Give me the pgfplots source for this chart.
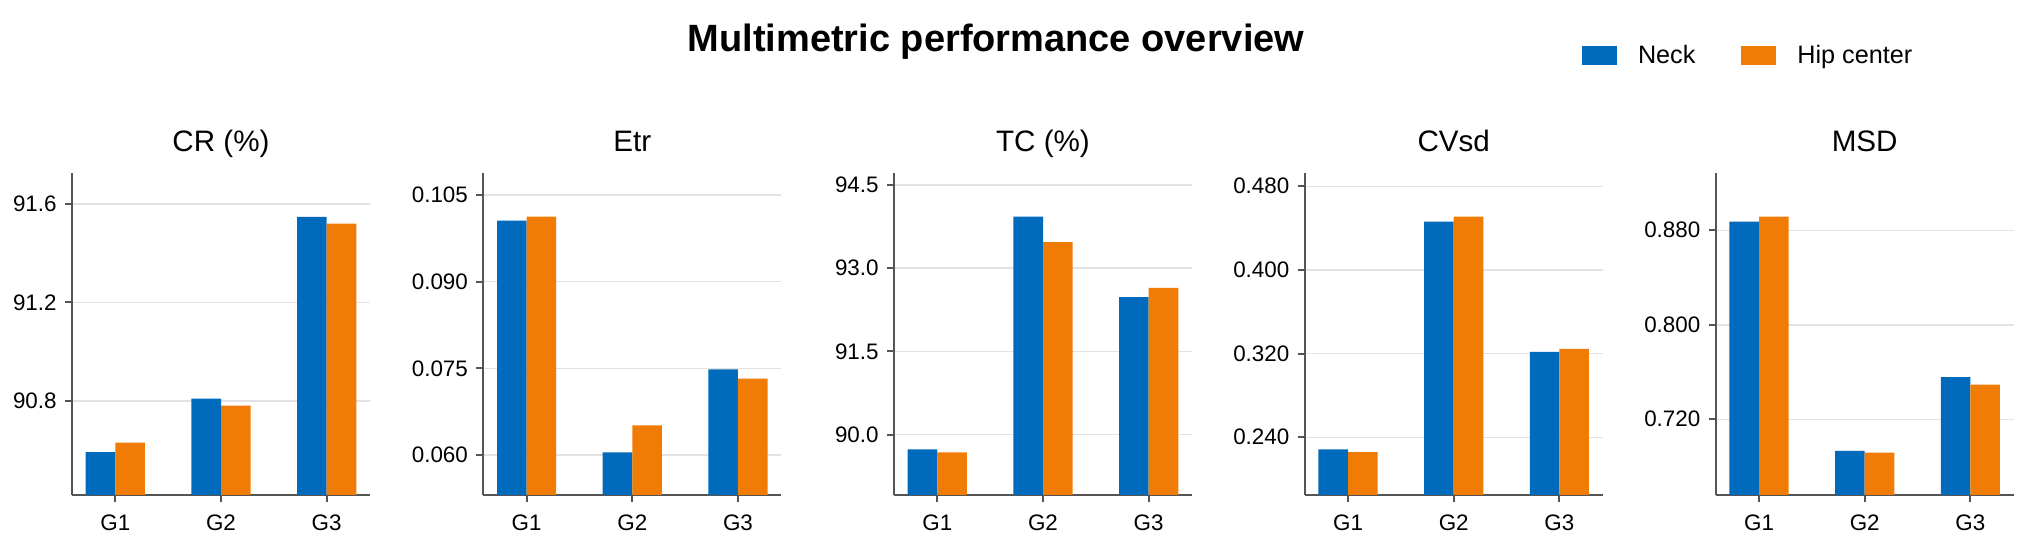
\documentclass[border=0pt]{standalone}
\usepackage{fontspec}
\setmainfont{Liberation Sans}
\usepackage{pgfplots}
\pgfplotsset{compat=1.18}
\definecolor{neck}{HTML}{006BBD}
\definecolor{hip}{HTML}{F07B05}
\definecolor{spine}{HTML}{555555}
\definecolor{gridc}{HTML}{E2E2E2}
\pgfplotsset{panel/.style={
  scale only axis, width=149bp, height=161bp, anchor=south west,
  axis x line*=bottom, axis y line*=left,
  axis line style={spine, line width=1bp},
  xmin=-0.41, xmax=2.41, xtick={0,1,2}, xticklabels={G1,G2,G3},
  tick align=outside, major tick length=3.5bp,
  tick style={spine, line width=1bp},
  ymajorgrids, grid style={gridc, line width=0.75bp},
  ybar, bar width=0.28,
  ticklabel style={font=\fontsize{11.2bp}{13bp}\selectfont},
  yticklabel style={inner xsep=0pt, xshift=-4bp},
  xticklabel style={inner ysep=0pt, yshift=-6bp},
  /pgf/number format/assume math mode=true,
  /pgf/number format/fixed, /pgf/number format/fixed zerofill,
  title style={at={(0.5,1)}, anchor=base, yshift=5bp, inner sep=0pt, font=\fontsize{14.8bp}{17bp}\selectfont},
  clip=true,
}}
\begin{document}
\begin{tikzpicture}
\path[use as bounding box] (0,0) rectangle (1018.5bp,274bp);
\node[anchor=base, font=\bfseries\fontsize{19bp}{22bp}\selectfont] at (498bp,248.15bp) {Multimetric performance overview};

\begin{axis}[panel, at={(36bp,26.5bp)}, title={CR (\%)},
  ymin=90.418, ymax=91.726, ytick={90.8,91.2,91.6}, /pgf/number format/precision=1]
\addplot[fill=neck, draw=none, bar shift=-0.14] coordinates {(0,90.592) (1,90.809) (2,91.548)};
\addplot[fill=hip, draw=none, bar shift=0.14] coordinates {(0,90.631) (1,90.781) (2,91.520)};
\end{axis}

\begin{axis}[panel, at={(241.65bp,26.5bp)}, title={Etr},
  ymin=0.05308, ymax=0.1088, ytick={0.060,0.075,0.090,0.105}, /pgf/number format/precision=3]
\addplot[fill=neck, draw=none, bar shift=-0.14] coordinates {(0,0.10055) (1,0.06047) (2,0.0748)};
\addplot[fill=hip, draw=none, bar shift=0.14] coordinates {(0,0.10125) (1,0.06514) (2,0.0732)};
\end{axis}

\begin{axis}[panel, at={(447bp,26.5bp)}, title={TC (\%)},
  ymin=88.913, ymax=94.716, ytick={90.0,91.5,93.0,94.5}, /pgf/number format/precision=1]
\addplot[fill=neck, draw=none, bar shift=-0.14] coordinates {(0,89.737) (1,93.929) (2,92.477)};
\addplot[fill=hip, draw=none, bar shift=0.14] coordinates {(0,89.683) (1,93.472) (2,92.645)};
\end{axis}

\begin{axis}[panel, at={(652.35bp,26.5bp)}, title={CVsd},
  ymin=0.1848, ymax=0.4927, ytick={0.240,0.320,0.400,0.480}, /pgf/number format/precision=3]
\addplot[fill=neck, draw=none, bar shift=-0.14] coordinates {(0,0.2285) (1,0.4462) (2,0.3216)};
\addplot[fill=hip, draw=none, bar shift=0.14] coordinates {(0,0.2257) (1,0.4509) (2,0.3245)};
\end{axis}

\begin{axis}[panel, at={(857.85bp,26.5bp)}, title={MSD},
  ymin=0.6559, ymax=0.9285, ytick={0.720,0.800,0.880}, /pgf/number format/precision=3,
  legend columns=2,
  legend style={draw=none, fill=none, at={(-0.45,1.399)}, anchor=north west, inner sep=0pt,
    font=\fontsize{12.6bp}{15bp}\selectfont,
    /tikz/every even column/.append style={column sep=23bp},
    nodes={inner sep=0pt}, cells={anchor=west}},
  legend cell align=left]
\addplot[fill=neck, draw=none, bar shift=-0.14,
  legend image code/.code={\fill[neck] (0bp,-4.75bp) rectangle (17.5bp,4.75bp);}] coordinates {(0,0.8873) (1,0.6932) (2,0.7556)};
\addplot[fill=hip, draw=none, bar shift=0.14,
  legend image code/.code={\fill[hip] (0bp,-4.75bp) rectangle (17.5bp,4.75bp);}] coordinates {(0,0.8915) (1,0.6918) (2,0.7493)};
\legend{\hspace{10.5bp}Neck, \hspace{10.5bp}Hip center}
\end{axis}
\end{tikzpicture}
\end{document}
